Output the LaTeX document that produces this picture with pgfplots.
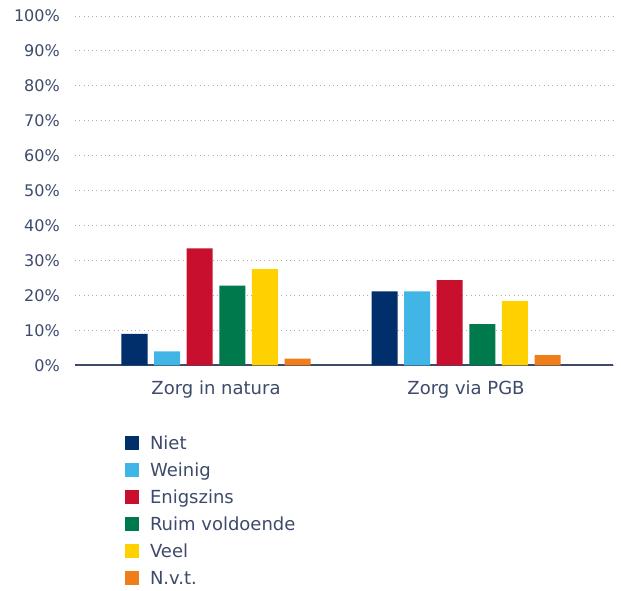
\documentclass[border=0pt]{standalone}
\usepackage{pgfplots}
\pgfplotsset{compat=1.18}
\usepackage{fontspec}
\setmainfont{DejaVu Sans}
\definecolor{txt}{HTML}{3D4A6B}
\definecolor{niet}{HTML}{002F6C}
\definecolor{weinig}{HTML}{41B6E6}
\definecolor{enig}{HTML}{C8102E}
\definecolor{ruim}{HTML}{007A4D}
\definecolor{veel}{HTML}{FFD100}
\definecolor{nvt}{HTML}{EF7D1A}
\definecolor{gridc}{HTML}{A8ACC4}
\pgfplotsset{sq/.style={draw=none, fill=#1,
    legend image code/.code={\fill[#1] (0pt,-7pt) rectangle (14pt,7pt);}}}
\begin{document}
\begin{tikzpicture}
\useasboundingbox (-75pt,-224.7pt) rectangle (546pt,365.3pt);
\begin{axis}[
    at={(0,0)}, anchor=south west,
    scale only axis, width=538pt, height=349.3pt,
    ybar=6.6pt, bar width=26pt,
    xmin=-0.564, xmax=1.588,
    ymin=0, ymax=100,
    xtick={0,1}, xticklabels={Zorg in natura, Zorg via PGB},
    ytick={0,10,...,100},
    yticklabel={\pgfmathprintnumber{\tick}\%},
    /pgf/number format/assume math mode=true,
    major tick length=0pt,
    axis x line*=bottom, axis y line*=left,
    x axis line style={draw=txt, line width=1.8pt, -},
    y axis line style={draw=none},
    ymajorgrids, grid style={draw=gridc, line width=0.9pt, dash pattern=on 0.9pt off 3.4pt},
    font=\fontsize{16pt}{19pt}\selectfont,
    every tick label/.append style={text=txt},
    yticklabel style={inner sep=0pt, xshift=-15pt},
    xticklabel style={inner sep=0pt, yshift=-15pt, font=\fontsize{18pt}{21pt}\selectfont},
    legend style={draw=none, fill=none, at={(0.087,0)}, yshift=-62pt, anchor=north west,
        legend cell align=left, text=txt, row sep=0pt, font=\fontsize{18pt}{21pt}\selectfont,
        nodes={inner sep=0pt, minimum height=27pt, text depth=0pt}},
    /tikz/every odd column/.append style={column sep=11pt},
]
\addplot[sq=niet] coordinates {(0,9) (1,21.2)};
\addplot[sq=weinig] coordinates {(0,4) (1,21.2)};
\addplot[sq=enig] coordinates {(0,33.5) (1,24.4)};
\addplot[sq=ruim] coordinates {(0,22.8) (1,11.8)};
\addplot[sq=veel] coordinates {(0,27.5) (1,18.4)};
\addplot[sq=nvt] coordinates {(0,1.9) (1,2.9)};
\legend{Niet, Weinig, Enigszins, Ruim voldoende, Veel, N.v.t.}
\end{axis}
\end{tikzpicture}
\end{document}
